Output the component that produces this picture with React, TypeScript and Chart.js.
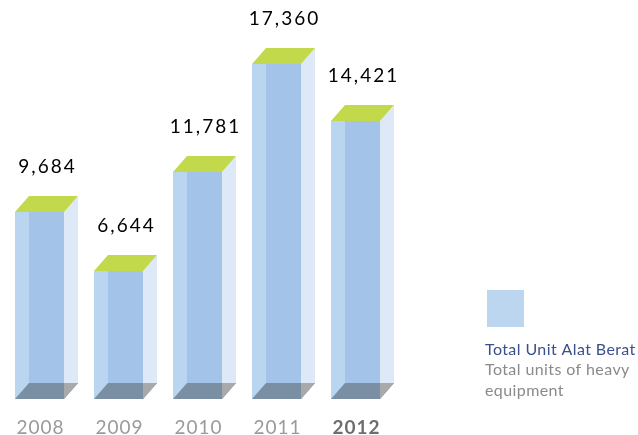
import React, { useEffect, useRef } from "react";
import { Chart, registerables } from "chart.js";

Chart.register(...registerables);

const years = ["2008", "2009", "2010", "2011", "2012"];
const units = [9684, 6644, 11781, 17360, 14421];
const valueLabels = ["9,684", "6,644", "11,781", "17,360", "14,421"];
const legendTitle = "Total Unit Alat Berat";
const legendSub = ["Total units of heavy", "equipment"];

const FONT = "Lato, 'Noto Sans', sans-serif";

const box3dPlugin = {
  id: "box3d",
  afterDatasetsDraw(chart: any) {
    const ctx = chart.ctx as CanvasRenderingContext2D;
    const meta = chart.getDatasetMeta(0);
    const dx = 14;
    const dy = 16;
    ctx.save();
    meta.data.forEach((bar: any, i: number) => {
      const { x, y, base, width } = bar.getProps(["x", "y", "base", "width"], true);
      const l = Math.round(x - width / 2);
      const r = Math.round(x + width / 2);
      const t = Math.round(y);
      const b = Math.round(base);
      // front face (light)
      ctx.fillStyle = "#b9d5ef";
      ctx.fillRect(l, t, r - l, b - t);
      // overlap with back face
      ctx.fillStyle = "#a3c4e8";
      ctx.fillRect(l + dx, t, r - l - dx, b - dy - t);
      // right side face
      ctx.fillStyle = "#dde9f7";
      ctx.beginPath();
      ctx.moveTo(r, t);
      ctx.lineTo(r + dx, t - dy);
      ctx.lineTo(r + dx, b - dy);
      ctx.lineTo(r, b);
      ctx.closePath();
      ctx.fill();
      // bottom
      ctx.fillStyle = "#7a8fa3";
      ctx.beginPath();
      ctx.moveTo(l, b);
      ctx.lineTo(l + dx, b - dy);
      ctx.lineTo(r + dx, b - dy);
      ctx.lineTo(r, b);
      ctx.closePath();
      ctx.fill();
      ctx.fillStyle = "#a8a9aa";
      ctx.beginPath();
      ctx.moveTo(r, b - dy);
      ctx.lineTo(r + dx, b - dy);
      ctx.lineTo(r, b);
      ctx.closePath();
      ctx.fill();
      // top
      ctx.fillStyle = "#c1d94a";
      ctx.beginPath();
      ctx.moveTo(l, t);
      ctx.lineTo(l + dx, t - dy);
      ctx.lineTo(r + dx, t - dy);
      ctx.lineTo(r, t);
      ctx.closePath();
      ctx.fill();
      // value label
      ctx.fillStyle = "#000000";
      ctx.font = `19px ${FONT}`;
      (ctx as any).letterSpacing = "2px";
      ctx.textAlign = "center";
      ctx.textBaseline = "middle";
      ctx.fillText(valueLabels[i], x + dx / 2 + 1, t - dy - 29);
      // year label
      const last = i === years.length - 1;
      ctx.fillStyle = last ? "#6e6e6e" : "#9a9a9a";
      ctx.font = `${last ? "bold " : ""}19px ${FONT}`;
      (ctx as any).letterSpacing = "1px";
      ctx.fillText(years[i], x + 1, 428);
    });
    // legend
    (ctx as any).letterSpacing = "0.4px";
    ctx.fillStyle = "#bcd6f0";
    ctx.fillRect(487, 290, 37, 37);
    ctx.textAlign = "left";
    ctx.textBaseline = "middle";
    ctx.font = `16px ${FONT}`;
    ctx.fillStyle = "#3b4f8c";
    ctx.fillText(legendTitle, 485, 350);
    ctx.fillStyle = "#8a8a8a";
    legendSub.forEach((s, k) => ctx.fillText(s, 485, 370 + k * 21));
    ctx.restore();
  },
};

export default function App() {
  const ref = useRef<HTMLCanvasElement>(null);
  useEffect(() => {
    if (!ref.current) return;
    const chart = new Chart(ref.current, {
      type: "bar",
      data: {
        labels: years,
        datasets: [
          {
            label: legendTitle,
            data: units,
            backgroundColor: "rgba(0,0,0,0)",
            borderWidth: 0,
            categoryPercentage: 1,
            barPercentage: 49 / 79,
          },
        ],
      },
      options: {
        animation: false,
        responsive: false,
        maintainAspectRatio: false,
        layout: { padding: { top: 13, bottom: 36, left: 0, right: 243 } },
        plugins: { legend: { display: false }, tooltip: { enabled: false } },
        scales: {
          x: { display: false },
          y: { display: false, min: 0, max: 20000 },
        },
      },
      plugins: [box3dPlugin],
    });
    return () => chart.destroy();
  }, []);
  return (
    <div style={{ position: "absolute", left: 0, top: 0, width: 638, height: 435, background: "#fff" }}>
      <canvas ref={ref} width={638} height={435} style={{ width: 638, height: 435 }} />
    </div>
  );
}
